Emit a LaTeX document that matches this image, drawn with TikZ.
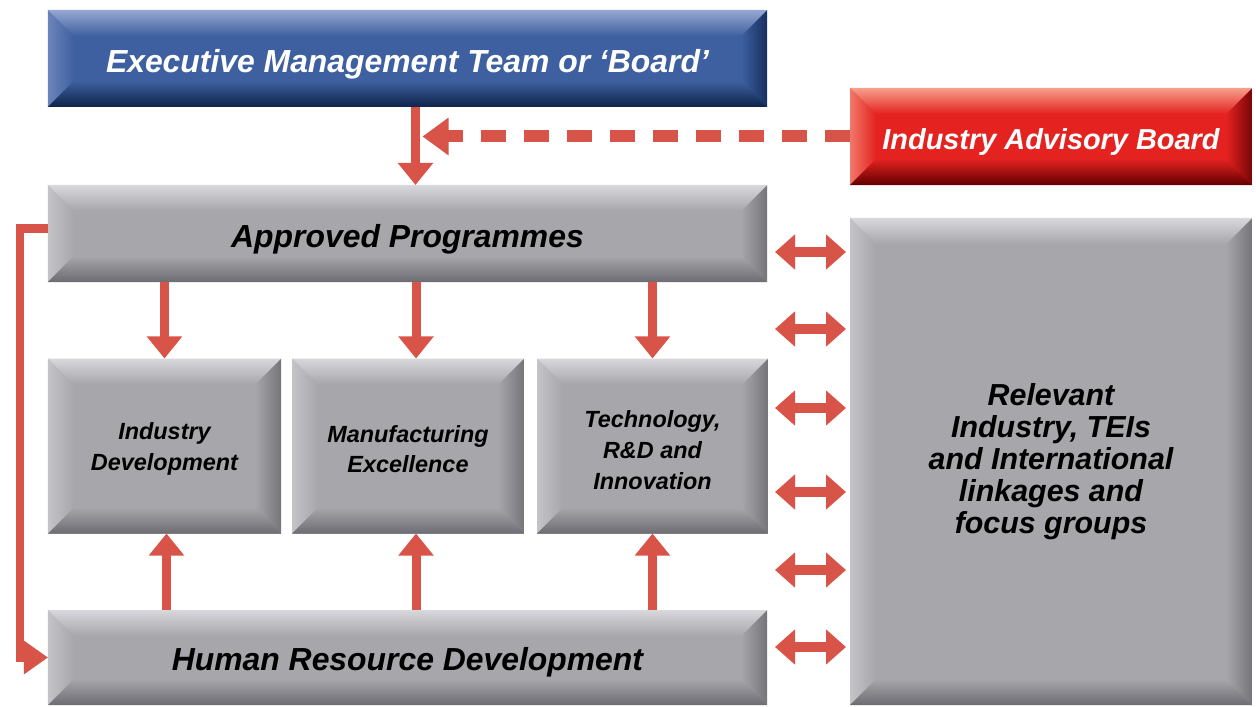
\documentclass[tikz,border=0pt]{standalone}
\usepackage{fontspec}
\setmainfont{Liberation Sans}
\usetikzlibrary{arrows.meta,calc}

\definecolor{arrowred}{RGB}{217,84,72}
\definecolor{greytop}{RGB}{216,216,220}
\definecolor{greymid}{RGB}{166,166,171}
\definecolor{greybot}{RGB}{108,108,114}
\definecolor{greyleft}{RGB}{196,196,200}
\definecolor{greyright}{RGB}{116,116,121}
\definecolor{bluetop}{RGB}{150,168,210}
\definecolor{bluemid}{RGB}{62,96,160}
\definecolor{bluebot}{RGB}{14,35,73}
\definecolor{blueleft}{RGB}{108,132,186}
\definecolor{blueright}{RGB}{22,48,95}
\definecolor{redtop}{RGB}{246,160,140}
\definecolor{redmid}{RGB}{228,34,32}
\definecolor{redbot}{RGB}{98,0,0}
\definecolor{redleft}{RGB}{240,120,105}
\definecolor{redright}{RGB}{120,6,6}

% bevel fill for the boxes: top, middle, bottom, left, right
\newcommand\bevelpic[5]{%
  \fill[#2] (path picture bounding box.south west) rectangle (path picture bounding box.north east);
  \shade[left color=#4, right color=#2] (path picture bounding box.north west) -- ([shift={(26bp,-26bp)}]path picture bounding box.north west) -- ([shift={(26bp,26bp)}]path picture bounding box.south west) -- (path picture bounding box.south west) -- cycle;
  \shade[left color=#2, right color=#5] (path picture bounding box.north east) -- ([shift={(-26bp,-26bp)}]path picture bounding box.north east) -- ([shift={(-26bp,26bp)}]path picture bounding box.south east) -- (path picture bounding box.south east) -- cycle;
  \shade[top color=#1, bottom color=#2] (path picture bounding box.north west) -- (path picture bounding box.north east) -- ([shift={(-26bp,-26bp)}]path picture bounding box.north east) -- ([shift={(26bp,-26bp)}]path picture bounding box.north west) -- cycle;
  \shade[top color=#2, bottom color=#3] (path picture bounding box.south west) -- (path picture bounding box.south east) -- ([shift={(-26bp,26bp)}]path picture bounding box.south east) -- ([shift={(26bp,26bp)}]path picture bounding box.south west) -- cycle;
}

\tikzset{
  box/.style={inner sep=0pt, outer sep=0pt, align=center, font=\bfseries\itshape},
  greybox/.style={box, fill=greymid, text=black, path picture={\bevelpic{greytop}{greymid}{greybot}{greyleft}{greyright}}},
  bluebox/.style={box, fill=bluemid, text=white, path picture={\bevelpic{bluetop}{bluemid}{bluebot}{blueleft}{blueright}}},
  redbox/.style={box, fill=redmid, text=white, path picture={\bevelpic{redtop}{redmid}{redbot}{redleft}{redright}}},
  flow/.style={draw=arrowred, line width=9bp, -{Triangle[length=22bp,width=34bp]}},
  feedback/.style={draw=arrowred, line width=8bp, -{Triangle[length=24bp,width=32bp]}},
  advice/.style={draw=arrowred, line width=12bp, dash pattern=on 25bp off 18bp, -{Triangle[length=26bp,width=36bp]}},
  link/.style={draw=arrowred, line width=10bp, {Triangle[length=20bp,width=34bp]}-{Triangle[length=20bp,width=34bp]}}
}

\begin{document}
\begin{tikzpicture}[x=1bp, y=-1bp]
		%%%%% START %%%%%
		\useasboundingbox[fill=white] (0,0) rectangle (1256,707);
		
		\node[bluebox, minimum width=719bp, minimum height=97bp, text height=29bp, text depth=0pt, font=\bfseries\itshape\fontsize{32}{36}\selectfont] (exec) at (407.5, 58.5) {Executive Management Team or ‘Board’};
		\node[redbox, minimum width=402bp, minimum height=97bp, text height=27bp, text depth=0pt, font=\bfseries\itshape\fontsize{29}{33}\selectfont] (iab) at (1051, 136.5) {Industry Advisory Board};
		\node[greybox, minimum width=719bp, minimum height=97bp, text height=28bp, text depth=0pt, font=\bfseries\itshape\fontsize{32}{36}\selectfont] (approved) at (407.5, 233.5) {Approved Programmes};
		
		\node[greybox, minimum width=233bp, minimum height=175bp, text height=53bp, font=\bfseries\itshape\fontsize{23.5}{31}\selectfont] (ind) at (164.5, 446) {Industry\\Development};
		\node[greybox, minimum width=232bp, minimum height=175bp, text height=54bp, font=\bfseries\itshape\fontsize{23.5}{31}\selectfont] (mfg) at (408, 446) {Manufacturing\\Excellence};
		\node[greybox, minimum width=231bp, minimum height=175bp, text height=87bp, font=\bfseries\itshape\fontsize{23.5}{31}\selectfont] (tech) at (652.5, 446) {Technology,\\R\&D and\\Innovation};
		
		\node[greybox, minimum width=719bp, minimum height=95bp, text height=25bp, text depth=0pt, font=\bfseries\itshape\fontsize{32}{36}\selectfont] (hrd) at (407.5, 657.5) {Human Resource Development};
		\node[greybox, minimum width=402bp, minimum height=487bp, font=\bfseries\itshape\fontsize{30.5}{32}\selectfont] (rel) at (1051, 461.5) {Relevant\\Industry, TEIs\\and International\\linkages and\\focus groups};
		
		% board down to programmes, advisory board feeding in
		\draw[flow] ([xshift=8bp]exec.south) -- ([xshift=8bp]approved.north);
		\draw[advice] (iab.west) -- ([xshift=15bp]exec.south |- iab.west);
		
		% programmes down to the three areas
		\draw[flow] (approved.south -| ind.north) -- (ind.north);
		\draw[flow] ([xshift=8bp]approved.south -| mfg.north) -- ([xshift=8bp]mfg.north);
		\draw[flow] (approved.south -| tech.north) -- (tech.north);
		
		% human resources up to the three areas
		\draw[flow] ([xshift=2bp]hrd.north -| ind.south) -- ([xshift=2bp]ind.south);
		\draw[flow] ([xshift=8bp]hrd.north -| mfg.south) -- ([xshift=8bp]mfg.south);
		\draw[flow] (hrd.north -| tech.south) -- (tech.south);
		
		% loop back on the left
		\draw[feedback] ([yshift=5bp]approved.west) -- ++(-28,0) |- (hrd.west);
		
		% two way links to the right
		\foreach \y in {252,329,408,492,570,647}
			\draw[link, shorten <=8bp, shorten >=4bp] (approved.east |- 0,\y) -- (rel.west |- 0,\y);
		
		%%%%% END %%%%%
\end{tikzpicture}
\end{document}
